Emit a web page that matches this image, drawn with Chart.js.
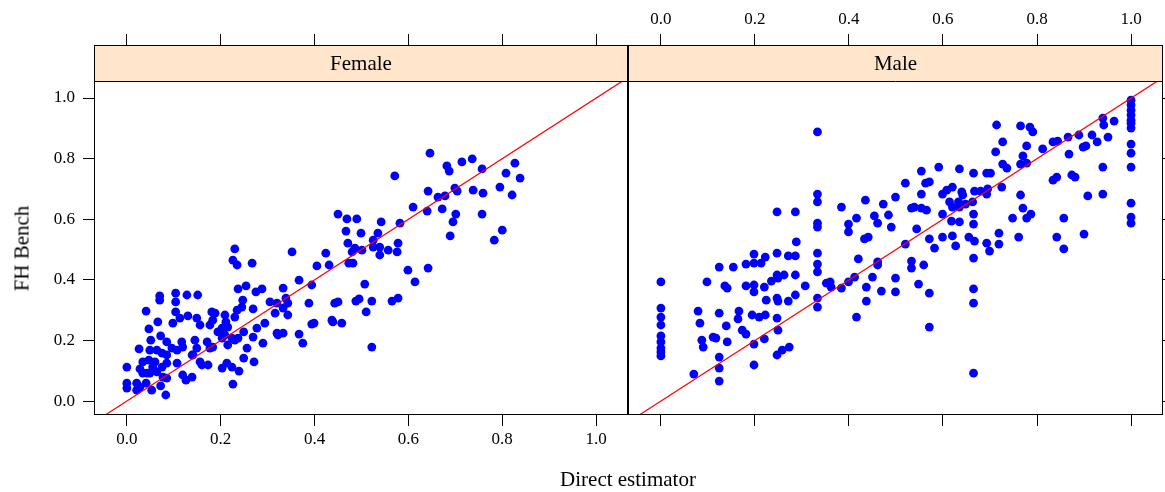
<!DOCTYPE html>
<html>
<head>
<meta charset="utf-8">
<script src="https://cdn.jsdelivr.net/npm/chart.js@4/dist/chart.umd.min.js"></script>
<style>
  body { margin: 0; width: 1165px; height: 492px; overflow: hidden; background: #fff; font-family: "Liberation Serif", serif; }
  canvas { position: absolute; top: 0; }
  #leftPanel { left: 0; }
  #rightPanel { left: 627px; }
  .title { position: absolute; font-size: 21px; color: #000; white-space: nowrap; text-align: center; }
  #xTitle { left: 428px; width: 400px; top: 467px; }
  #yTitle { left: -78px; width: 200px; top: 236px; transform: rotate(-90deg); }
</style>
</head>
<body>
<canvas id="leftPanel" width="629" height="492"></canvas>
<canvas id="rightPanel" width="546" height="492"></canvas>
<div class="title" id="xTitle">Direct estimator</div>
<div class="title" id="yTitle">FH Bench</div>
<script>
// panels
const panelNames = ["Female", "Male"];
const xTicks = [0, 0.2, 0.4, 0.6, 0.8, 1.0];
const yTicks = [0, 0.2, 0.4, 0.6, 0.8, 1.0];
const refLine = [-0.2, 1.2]; // y = x

// Female: direct estimator vs FH bench
const femaleX = [
  0.070,0.070,0.104,0.104,0.128,0.151,0.237,0.254,0.275,0.288,
  0.041,0.104,0.066,0.047,0.098,0.113,0.130,0.149,0.156,0.181,
  0.188,0.183,0.177,0.209,0.211,0.203,0.215,0.230,0.235,0.247,
  0.245,0.269,0.294,0.277,0.269,0.249,0.051,0.072,0.085,0.117,
  0.119,0.107,0.096,0.145,0.149,0.139,0.171,0.177,0.183,0.194,
  0.203,0.209,0.215,0.224,0.230,0.237,0.256,0.290,0.026,0.049,
  0.064,0.075,0.085,0.034,0.047,0.060,0.055,0.075,0.085,0.107,
  0.141,0.156,0.160,0.173,0.203,0.213,0.224,0.239,0.249,0.271,
  0.000,0.028,0.034,0.043,0.049,0.064,0.077,0.085,0.119,0.126,
  0.139,0.000,0.000,0.021,0.021,0.028,0.041,0.053,0.072,0.083,
  0.226,0.230,0.226,0.235,0.267,
  0.646,0.682,0.687,0.571,0.642,0.663,0.678,0.699,0.704,0.610,
  0.640,0.672,0.701,0.695,0.689,0.450,0.469,0.490,0.467,0.499,
  0.542,0.535,0.582,0.471,0.486,0.480,0.501,0.525,0.525,0.539,
  0.539,0.557,0.576,0.578,0.424,0.431,0.405,0.473,0.482,0.352,
  0.599,0.642,0.614,0.367,0.394,0.333,0.305,0.320,0.339,0.343,
  0.333,0.316,0.343,0.388,0.443,0.450,0.488,0.495,0.522,0.510,
  0.565,0.578,0.507,0.394,0.399,0.437,0.439,0.458,0.320,0.333,
  0.322,0.367,0.375,0.522,
  0.714,0.736,0.757,0.827,0.808,0.838,0.795,0.821,0.738,0.759,
  0.757,0.800,0.783
];
const femaleY = [
  0.347,0.333,0.356,0.327,0.350,0.350,0.370,0.380,0.360,0.370,
  0.297,0.294,0.261,0.238,0.257,0.274,0.281,0.274,0.251,0.294,
  0.290,0.267,0.251,0.284,0.261,0.241,0.244,0.277,0.300,0.333,
  0.310,0.304,0.257,0.241,0.211,0.228,0.201,0.215,0.195,0.195,
  0.178,0.168,0.175,0.201,0.175,0.152,0.195,0.175,0.178,0.228,
  0.208,0.218,0.185,0.208,0.201,0.208,0.175,0.191,0.172,0.168,
  0.168,0.158,0.152,0.129,0.135,0.129,0.112,0.112,0.125,0.125,
  0.152,0.129,0.119,0.119,0.109,0.125,0.112,0.099,0.142,0.129,
  0.112,0.106,0.092,0.092,0.092,0.096,0.079,0.076,0.086,0.069,
  0.079,0.059,0.043,0.059,0.036,0.046,0.059,0.036,0.050,0.020,
  0.056,0.502,0.465,0.449,0.455,
  0.818,0.776,0.759,0.743,0.693,0.673,0.677,0.703,0.693,0.640,
  0.627,0.634,0.617,0.591,0.545,0.617,0.601,0.601,0.561,0.554,
  0.591,0.554,0.587,0.521,0.505,0.492,0.498,0.531,0.508,0.508,
  0.482,0.498,0.492,0.521,0.488,0.449,0.446,0.455,0.455,0.492,
  0.432,0.439,0.393,0.399,0.383,0.373,0.327,0.323,0.340,0.323,
  0.307,0.290,0.284,0.323,0.323,0.327,0.330,0.337,0.330,0.294,
  0.330,0.340,0.386,0.254,0.257,0.267,0.261,0.257,0.224,0.224,
  0.218,0.221,0.191,0.178,
  0.789,0.799,0.766,0.785,0.752,0.736,0.706,0.680,0.696,0.686,
  0.617,0.564,0.531
];

// Male: direct estimator vs FH bench
const maleX = [
  0,0,0,0,0,0,0,0,0,
  0.098,0.079,0.083,0.124,0.154,0.181,0.198,0.222,0.198,0.213,
  0.247,0.271,0.286,0.136,0.141,0.181,0.198,0.198,0.220,0.235,
  0.247,0.249,0.262,0.286,0.307,0.224,0.247,0.249,0.271,0.286,
  0.124,0.166,0.164,0.194,0.209,0.222,0.247,0.139,0.173,0.181,
  0.087,0.090,0.111,0.117,0.141,0.198,0.220,0.249,0.247,0.258,
  0.273,0.124,0.198,0.070,0.124,0.124,
  0.247,0.286,0.288,
  0.333,0.333,0.333,0.333,0.333,0.333,0.333,0.384,0.435,0.416,
  0.399,0.399,0.454,0.461,0.473,0.499,0.484,0.490,0.520,0.554,
  0.591,0.563,0.571,0.554,0.533,0.539,0.554,0.565,0.544,0.433,
  0.441,0.520,0.571,0.582,0.599,0.620,0.627,0.420,0.461,0.461,
  0.533,0.533,0.559,0.599,0.608,0.620,0.640,0.642,0.633,0.614,
  0.620,0.635,0.648,0.599,0.618,0.635,0.635,0.655,
  0.333,0.333,0.333,0.352,0.360,0.362,0.384,0.399,0.412,0.437,
  0.450,0.437,0.469,0.416,0.499,0.499,0.548,0.571,0.571,
  1,1,1,1,1,1,1,1,1,1,1,1,1,
  0.940,0.942,0.964,0.917,0.951,0.928,0.889,0.866,0.868,0.834,
  0.844,0.898,0.904,0.812,0.714,0.765,0.785,0.791,0.727,0.778,
  0.712,0.770,0.765,0.778,0.727,0.736,0.940,0.834,0.842,0.874,
  0.881,0.665,0.693,0.701,0.725,0.667,0.680,0.693,0.695,0.663,
  0.765,0.908,0.940,0.665,0.665,0.770,0.778,0.787,0.748,0.857,
  0.667,0.693,0.699,0.719,0.719,0.761,0.842,0.857,0.900,0.665,
  0.665,0.665,0.665
];
const maleY = [
  0.393,0.307,0.277,0.251,0.215,0.195,0.175,0.162,0.149,
  0.393,0.297,0.257,0.442,0.442,0.452,0.485,0.475,0.455,0.455,
  0.488,0.479,0.479,0.380,0.373,0.380,0.383,0.360,0.376,0.396,
  0.416,0.406,0.416,0.416,0.380,0.333,0.340,0.330,0.330,0.350,
  0.290,0.297,0.271,0.284,0.277,0.284,0.274,0.248,0.234,0.221,
  0.201,0.178,0.211,0.208,0.195,0.188,0.205,0.234,0.152,0.168,
  0.178,0.145,0.119,0.089,0.109,0.066,
  0.624,0.624,0.525,
  0.888,0.683,0.657,0.587,0.574,0.488,0.452,0.640,0.663,0.604,
  0.584,0.558,0.611,0.587,0.650,0.673,0.614,0.574,0.719,0.759,
  0.772,0.719,0.723,0.683,0.637,0.640,0.637,0.630,0.568,0.535,
  0.541,0.518,0.535,0.505,0.541,0.545,0.512,0.469,0.459,0.449,
  0.462,0.439,0.449,0.683,0.696,0.706,0.690,0.680,0.657,0.657,
  0.640,0.640,0.650,0.617,0.594,0.591,0.766,0.541,
  0.426,0.340,0.310,0.389,0.393,0.376,0.373,0.393,0.409,0.376,
  0.409,0.330,0.363,0.277,0.406,0.360,0.386,0.356,0.244,
  0.993,0.977,0.960,0.944,0.927,0.917,0.901,0.848,0.818,0.772,0.653,0.607,0.587,
  0.934,0.911,0.924,0.878,0.871,0.855,0.878,0.871,0.815,0.855,
  0.858,0.838,0.842,0.832,0.911,0.908,0.904,0.888,0.855,0.842,
  0.822,0.809,0.782,0.785,0.782,0.769,0.772,0.729,0.739,0.746,
  0.739,0.752,0.752,0.752,0.706,0.693,0.693,0.683,0.700,0.657,
  0.680,0.677,0.683,0.617,0.584,0.637,0.604,0.617,0.604,0.604,
  0.528,0.521,0.495,0.554,0.518,0.541,0.541,0.502,0.551,0.472,
  0.370,0.323,0.092
];

const xMin = -0.07, xMax = 1.068;
const yMin = -0.046, yMax = 1.175; // top of range sits under the strip
const stripHeight = 36;
const serif = '"Liberation Serif", "Times New Roman", serif';

// strip + panel box, drawn over the data like lattice does
const stripPlugin = {
  id: "strip",
  afterDatasetsDraw(chart, args, opts) {
    const { ctx, chartArea } = chart;
    const l = chartArea.left, r = chartArea.right, t = chartArea.top, b = chartArea.bottom;
    ctx.save();
    ctx.fillStyle = "#ffe5cc";
    ctx.fillRect(l, t, r - l, stripHeight);
    ctx.strokeStyle = "#000";
    ctx.lineWidth = 1;
    ctx.strokeRect(l + 0.5, t + 0.5, r - l - 1, b - t - 1);
    ctx.beginPath();
    ctx.moveTo(l, t + stripHeight + 0.5);
    ctx.lineTo(r, t + stripHeight + 0.5);
    ctx.stroke();
    ctx.fillStyle = "#000";
    ctx.font = "21px " + serif;
    ctx.textAlign = "center";
    ctx.textBaseline = "middle";
    ctx.fillText(opts.label, (l + r) / 2, t + stripHeight / 2 + 1);
    ctx.restore();
  }
};

function setTicks(vals) {
  return function (scale) { scale.ticks = vals.map(v => ({ value: v })); };
}

function axis(position, min, max, vals, size, showLabels, pad) {
  const horiz = position === "top" || position === "bottom";
  return {
    type: "linear",
    position: position,
    min: min,
    max: max,
    afterBuildTicks: setTicks(vals),
    afterFit: s => { if (horiz) s.height = size; else s.width = size; },
    grid: { drawOnChartArea: false, drawTicks: true, tickLength: 11, color: "#000", tickColor: "#000", lineWidth: 1 },
    border: { display: false },
    ticks: {
      display: showLabels,
      font: { family: serif, size: 17 },
      color: "#000",
      padding: pad,
      maxRotation: 0,
      autoSkip: false,
      callback: v => v.toFixed(1)
    }
  };
}

function makePanel(id, xs, ys, label, side) {
  const pts = xs.map((x, i) => ({ x: x, y: ys[i] }));
  const left = side === "left";
  return new Chart(document.getElementById(id), {
    type: "scatter",
    data: {
      datasets: [
        {
          data: refLine.map(v => ({ x: v, y: v })),
          showLine: true,
          borderColor: "#ff0000",
          borderWidth: 1.2,
          pointRadius: 0,
          order: 0
        },
        {
          data: pts,
          backgroundColor: "#0000ff",
          borderWidth: 0,
          pointRadius: 4.4,
          order: 1
        }
      ]
    },
    options: {
      responsive: false,
      animation: false,
      devicePixelRatio: 1,
      layout: { autoPadding: false, padding: left ? { right: 1 } : { left: 1 } },
      plugins: { legend: { display: false }, tooltip: { enabled: false }, strip: { label: label } },
      scales: {
        x: axis("bottom", xMin, xMax, xTicks, 77, left, 3),
        xTop: axis("top", xMin, xMax, xTicks, 45, !left, 4),
        y: axis(left ? "left" : "right", yMin, yMax, yTicks, left ? 94 : 10, left, 8)
      }
    },
    plugins: [stripPlugin]
  });
}

makePanel("leftPanel", femaleX, femaleY, panelNames[0], "left");
makePanel("rightPanel", maleX, maleY, panelNames[1], "right");
</script>
</body>
</html>
